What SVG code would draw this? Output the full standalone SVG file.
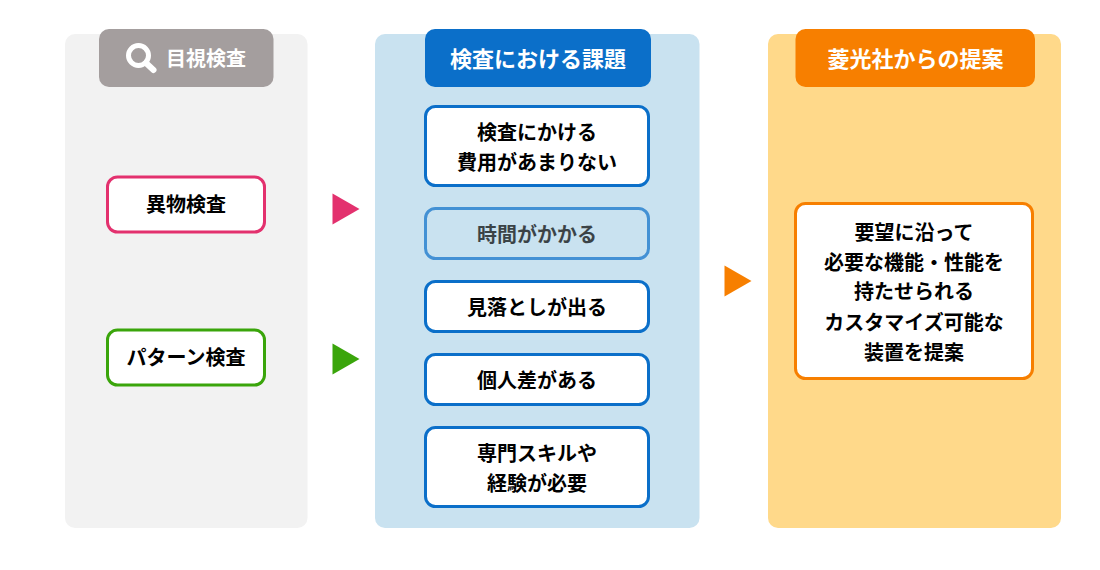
<svg xmlns="http://www.w3.org/2000/svg" width="1100" height="570" viewBox="0 0 1100 570">
<style>
text{font-family:"Noto Sans CJK JP","Noto Sans",sans-serif;font-weight:700;font-size:20px;text-anchor:middle;fill:#000}
.h{fill:#fff}
.hb{font-size:22px}
.b{fill:#fff;stroke-width:3}
</style>
<rect width="1100" height="570" fill="#fff"/>
<g id="panel-inspection">
<rect x="65" y="34" width="242.500" height="494" rx="10" fill="#f2f2f2"/>
<rect x="99" y="29" width="174.500" height="58" rx="10" fill="#a49e9e"/>
<circle cx="138.500" cy="55.500" r="10" fill="none" stroke="#fff" stroke-width="5"/>
<path d="M146 63L153.500 70" stroke="#fff" stroke-width="6" stroke-linecap="round"/>
<text class="h" x="206" y="66">目視検査</text>
</g>
<g id="node-foreign">
<rect class="b" x="107.500" y="177" width="157" height="55" rx="10" stroke="#e3316e"/>
<text x="186" y="212">異物検査</text>
</g>
<g id="node-pattern">
<rect class="b" x="107.500" y="330" width="157" height="55" rx="10" stroke="#3aa50b"/>
<text x="186" y="365">パターン検査</text>
</g>
<g id="panel-issues">
<rect x="375" y="34" width="324.500" height="494" rx="10" fill="#c9e2f0"/>
<rect x="425" y="29" width="226" height="58" rx="10" fill="#0b6fc9"/>
<text class="h hb" x="538" y="67">検査における課題</text>
</g>
<g id="node-cost">
<rect class="b" x="425.500" y="106.500" width="223" height="79" rx="10" stroke="#0b6fc9"/>
<text x="537" y="139.500">検査にかける</text>
<text x="537" y="169.500">費用があまりない</text>
</g>
<g id="node-time" opacity="0.7">
<rect x="425.500" y="208.500" width="223" height="50" rx="10" fill="none" stroke="#0b6fc9" stroke-width="3"/>
<text x="537" y="241.500">時間がかかる</text>
</g>
<g id="node-miss">
<rect class="b" x="425.500" y="281.500" width="223" height="50" rx="10" stroke="#0b6fc9"/>
<text x="537" y="314.500">見落としが出る</text>
</g>
<g id="node-person">
<rect class="b" x="425.500" y="354.500" width="223" height="50" rx="10" stroke="#0b6fc9"/>
<text x="537" y="387.500">個人差がある</text>
</g>
<g id="node-skill">
<rect class="b" x="425.500" y="427.500" width="223" height="79" rx="10" stroke="#0b6fc9"/>
<text x="537" y="460.500">専門スキルや</text>
<text x="537" y="490.500">経験が必要</text>
</g>
<g id="panel-proposal">
<rect x="768" y="34" width="293" height="494" rx="10" fill="#ffd98a"/>
<rect x="795.500" y="29" width="239.500" height="58" rx="10" fill="#f77f00"/>
<text class="h hb" x="915.500" y="67">菱光社からの提案</text>
</g>
<g id="node-proposal">
<rect class="b" x="795.500" y="203.500" width="237" height="175" rx="10" stroke="#f77f00"/>
<text x="914" y="240">要望に沿って</text>
<text x="914" y="270">必要な機能・性能を</text>
<text x="914" y="299">持たせられる</text>
<text x="914" y="329.500">カスタマイズ可能な</text>
<text x="914" y="359.500">装置を提案</text>
</g>
<g id="connectors">
<polygon points="332.500,193.500 359.500,209 332.500,224.500" fill="#e3316e"/>
<polygon points="332.500,343.500 359.500,359 332.500,374.500" fill="#3aa50b"/>
<polygon points="724.500,265.500 751.500,281 724.500,296.500" fill="#f77f00"/>
</g>
</svg>
